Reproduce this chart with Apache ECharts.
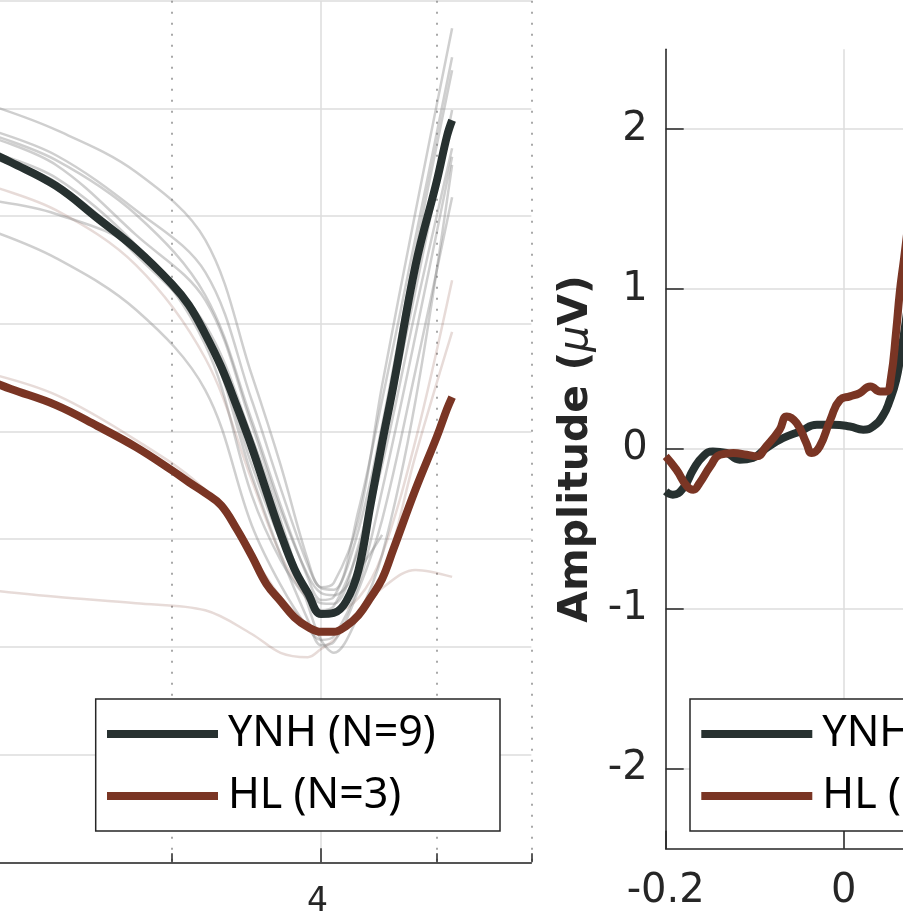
<!DOCTYPE html>
<html>
<head>
<meta charset="utf-8">
<script src="https://cdn.jsdelivr.net/npm/echarts@6/dist/echarts.min.js"></script>
<style>
  html, body { margin: 0; padding: 0; background: #ffffff; }
  #chart { width: 903px; height: 922px; }
</style>
</head>
<body>
<div id="chart"></div>
<script>
// ---- Left panel: trough detail, log-scaled x ----
const freqX = [2.1, 2.4, 2.8, 3.2, 3.5, 3.7, 3.9, 4.0, 4.1, 4.3, 4.5, 4.8, 5.15];

// individual YNH listeners
const ynhSubjects = [
  [-0.192, -0.240, -0.318, -0.444, -0.695, -0.862, -1.039, -1.089, -1.081, -0.964, -0.714, -0.391, -0.051],
  [-0.238, -0.287, -0.389, -0.504, -0.742, -0.905, -1.048, -1.091, -1.094, -0.946, -0.742, -0.439, -0.105],
  [-0.246, -0.296, -0.397, -0.547, -0.779, -0.937, -1.072, -1.113, -1.107, -0.983, -0.788, -0.463, -0.129],
  [-0.370, -0.396, -0.463, -0.639, -0.918, -1.039, -1.113, -1.132, -1.124, -1.020, -0.862, -0.574, -0.274],
  [-0.424, -0.478, -0.574, -0.723, -0.974, -1.085, -1.165, -1.187, -1.180, -1.085, -0.909, -0.621, -0.290],
  [-0.279, -0.329, -0.454, -0.621, -0.881, -1.029, -1.150, -1.197, -1.191, -1.094, -0.964, -0.686, -0.365],
  [-0.290, -0.339, -0.463, -0.602, -0.810, -0.964, -1.122, -1.187, -1.211, -1.141, -1.029, -0.742, -0.305],
  [-0.251, -0.305, -0.435, -0.556, -0.788, -0.946, -1.067, -1.100, -1.104, -1.057, -0.992, null, null],
  [-0.287, -0.337, -0.472, -0.615, -0.862, -1.002, -1.094, -1.119, -1.120, -1.011, -0.831, -0.537, -0.203]
];

// individual HL listeners
const hlSubjects = [
  [-0.342, -0.389, -0.491, -0.664, -0.890, -1.029, -1.113, -1.135, -1.135, -1.109, -1.029, -0.816, -0.519],
  [-0.691, -0.732, -0.816, -0.909, -1.029, -1.107, -1.159, -1.176, -1.172, -1.146, -1.076, -0.844, -0.615],
  [-1.094, -1.107, -1.119, -1.132, -1.176, -1.211, -1.219, -1.204, -1.187, -1.135, -1.091, -1.057, -1.070]
];

// group means
const meanX = [2.1, 2.2, 2.4, 2.6, 2.8, 3.0, 3.1, 3.2, 3.3, 3.4, 3.5, 3.6, 3.7, 3.8, 3.9,
               4.0, 4.1, 4.2, 4.3, 4.4, 4.5, 4.6, 4.8, 5.0, 5.1, 5.15];
const ynhMean = [-0.279, -0.300, -0.344, -0.404, -0.461, -0.526, -0.565, -0.619, -0.680, -0.753,
                 -0.829, -0.911, -0.989, -1.055, -1.100, -1.139, -1.137, -1.115, -1.057, -0.937,
                 -0.821, -0.714, -0.491, -0.335, -0.251, -0.222];
const hlMean = [-0.704, -0.721, -0.751, -0.790, -0.829, -0.872, -0.894, -0.914, -0.937, -0.981,
                -1.031, -1.083, -1.115, -1.145, -1.163, -1.172, -1.172, -1.161, -1.141, -1.109,
                -1.074, -1.018, -0.907, -0.810, -0.758, -0.736];

const freqTicksMajor = [4];
const freqTicksMinor = [3, 5, 6];

// ---- Right panel: averaged waveforms ----
const ynhTime = [-0.2, -0.192, -0.18, -0.169, -0.158, -0.147, -0.132, -0.117, -0.102, -0.087,
                 -0.068, -0.049, -0.03, -0.012, 0.007, 0.022, 0.033, 0.044, 0.052, 0.059,
                 0.064, 0.07, 0.077];
const ynhAmp = [-0.265, -0.286, -0.242, -0.129, -0.046, -0.015, -0.025, -0.067, -0.056, 0.006,
                0.069, 0.110, 0.152, 0.152, 0.141, 0.121, 0.141, 0.208, 0.308, 0.433,
                0.590, 0.809, 1.122];
const hlTime = [-0.2, -0.188, -0.176, -0.169, -0.162, -0.150, -0.139, -0.124, -0.109, -0.098,
                -0.087, -0.072, -0.064, -0.053, -0.042, -0.036, -0.027, -0.015, -0.004, 0.007,
                0.018, 0.03, 0.041, 0.048, 0.053, 0.059, 0.063, 0.068, 0.075];
const hlAmp = [-0.046, -0.129, -0.234, -0.255, -0.213, -0.109, -0.036, -0.025, -0.036, -0.046,
               0.016, 0.121, 0.204, 0.163, 0.038, -0.025, 0.016, 0.183, 0.308, 0.329,
               0.350, 0.391, 0.360, 0.360, 0.440, 0.740, 0.980, 1.200, 1.520];
const ampTicks = [-2, -1, 0, 1, 2];

const groupNames = ['YNH (N=9)', 'HL (N=3)'];

// ---- styling ----
const INK = '#262626';
const GRID = '#dcdcdc';
const DOT = '#8c8c8c';
const YNH_COLOR = '#273130';
const HL_COLOR = '#7a3524';
const YNH_FAINT = 'rgba(130,130,130,0.38)';
const HL_FAINT = 'rgba(122,53,38,0.18)';

const zip = (xs, ys) => xs.map((x, i) => [x, ys[i]]);

const series = [];
hlSubjects.forEach((ys, i) => series.push({
  name: 'HL subject ' + (i + 1), type: 'line', xAxisIndex: 0, yAxisIndex: 0,
  data: zip(freqX, ys), symbol: 'none', smooth: 0.35, silent: true,
  lineStyle: { color: HL_FAINT, width: 2.5 }, itemStyle: { color: HL_FAINT }, z: 2
}));
ynhSubjects.forEach((ys, i) => series.push({
  name: 'YNH subject ' + (i + 1), type: 'line', xAxisIndex: 0, yAxisIndex: 0,
  data: zip(freqX, ys), symbol: 'none', smooth: 0.35, silent: true,
  lineStyle: { color: YNH_FAINT, width: 2.5 }, itemStyle: { color: YNH_FAINT }, z: 2
}));
series.push({
  name: groupNames[0], type: 'line', xAxisIndex: 0, yAxisIndex: 0,
  data: zip(meanX, ynhMean), symbol: 'none', smooth: 0.4, color: YNH_COLOR,
  lineStyle: { color: YNH_COLOR, width: 8 }, z: 3
});
series.push({
  name: groupNames[1], type: 'line', xAxisIndex: 0, yAxisIndex: 0,
  data: zip(meanX, hlMean), symbol: 'none', smooth: 0.4, color: HL_COLOR,
  lineStyle: { color: HL_COLOR, width: 8 }, z: 3
});
series.push({
  name: groupNames[0], type: 'line', xAxisIndex: 2, yAxisIndex: 1,
  data: zip(ynhTime, ynhAmp), symbol: 'none', smooth: 0.5, color: YNH_COLOR,
  lineStyle: { color: YNH_COLOR, width: 8 }, z: 3
});
series.push({
  name: groupNames[1], type: 'line', xAxisIndex: 2, yAxisIndex: 1,
  data: zip(hlTime, hlAmp), symbol: 'none', smooth: 0.5, color: HL_COLOR,
  lineStyle: { color: HL_COLOR, width: 8 }, z: 4
});

const tickFont = { fontFamily: 'DejaVu Sans', color: INK };

function legendAt(left) {
  return {
    data: groupNames, orient: 'vertical', left: left, top: 699,
    icon: 'rect', itemWidth: 111, itemHeight: 8, itemGap: 18,
    padding: [13, 8, 13, 11.3],
    backgroundColor: '#ffffff', borderColor: INK, borderWidth: 1.5, borderRadius: 0,
    selectedMode: false,
    textStyle: { fontFamily: 'Noto Sans', fontSize: 43, lineHeight: 44, color: '#000000',
                 padding: [0, 0, 0, 5], width: 264 }
  };
}

const option = {
  animation: false,
  backgroundColor: '#ffffff',
  grid: [
    { left: -38.55, top: 0.7, width: 569.9, height: 861.6, outerBoundsMode: 'none', containLabel: false },
    { left: 665.7, top: 49.3, width: 534, height: 799.4, outerBoundsMode: 'none', containLabel: false },
    { left: -38.55, top: 0.7, width: 569.9, height: 861.6, outerBoundsMode: 'none', containLabel: false }
  ],
  xAxis: [
    {
      gridIndex: 0, type: 'log', logBase: 10, min: 2, max: 6, position: 'bottom',
      axisLine: { show: true, onZero: false, lineStyle: { color: INK, width: 1.5 } },
      axisTick: { show: true, inside: true, length: 14, customValues: freqTicksMajor,
                  lineStyle: { color: INK, width: 1.5 } },
      axisLabel: Object.assign({ customValues: freqTicksMajor, fontSize: 33, margin: 24,
                                 padding: [0, 7, 0, 0] }, tickFont),
      splitLine: { show: true, lineStyle: { color: GRID, width: 1.5 } },
      minorTick: { show: false }, minorSplitLine: { show: false }
    },
    {
      gridIndex: 2, type: 'log', logBase: 10, min: 2, max: 6, position: 'bottom',
      axisLine: { show: false, onZero: false },
      axisTick: { show: true, inside: true, length: 9, customValues: freqTicksMinor,
                  lineStyle: { color: INK, width: 1.5 } },
      axisLabel: { show: false },
      splitLine: { show: true, lineStyle: { color: DOT, width: 1.5, type: [2, 9] } }
    },
    {
      gridIndex: 1, type: 'value', min: -0.2, max: 0.4, interval: 0.2, position: 'bottom',
      axisLine: { show: true, onZero: false, lineStyle: { color: INK, width: 1.5 } },
      axisTick: { show: true, inside: true, length: 18, lineStyle: { color: INK, width: 1.5 } },
      axisLabel: Object.assign({ fontSize: 40, margin: 23 }, tickFont),
      splitLine: { show: true, lineStyle: { color: GRID, width: 1.5 } }
    }
  ],
  yAxis: [
    {
      gridIndex: 0, type: 'value', min: -1.6, max: 0, interval: 0.2, position: 'left',
      axisLine: { show: false, onZero: false }, axisTick: { show: false }, axisLabel: { show: false },
      splitLine: { show: true, lineStyle: { color: GRID, width: 1.5 } }
    },
    {
      gridIndex: 1, type: 'value', min: -2.5, max: 2.5, position: 'left',
      axisLine: { show: true, onZero: false, lineStyle: { color: INK, width: 1.5 } },
      axisTick: { show: true, inside: true, length: 18, customValues: ampTicks,
                  lineStyle: { color: INK, width: 1.5 } },
      axisLabel: Object.assign({ customValues: ampTicks, fontSize: 40, margin: 18 }, tickFont),
      splitLine: { show: true, lineStyle: { color: GRID, width: 1.5 } },
      name: '{b|Amplitude (}{m|\u03bc}{b|V)}',
      nameLocation: 'middle', nameGap: 66, nameRotate: 90,
      nameTextStyle: {
        rich: {
          b: { fontFamily: 'DejaVu Sans', fontWeight: 'bold', fontSize: 41, color: INK },
          m: { fontFamily: 'DejaVu Sans', fontStyle: 'italic', fontWeight: 'normal', fontSize: 41, color: INK }
        }
      }
    },
    {
      gridIndex: 2, type: 'value', min: -1.6, max: 0, position: 'left',
      axisLine: { show: false, onZero: false }, axisTick: { show: false },
      axisLabel: { show: false }, splitLine: { show: false }
    }
  ],
  legend: [legendAt(95.7), legendAt(690)],
  series: series
};

const chart = echarts.init(document.getElementById('chart'), null, { renderer: 'canvas' });
chart.setOption(option);
</script>
</body>
</html>
